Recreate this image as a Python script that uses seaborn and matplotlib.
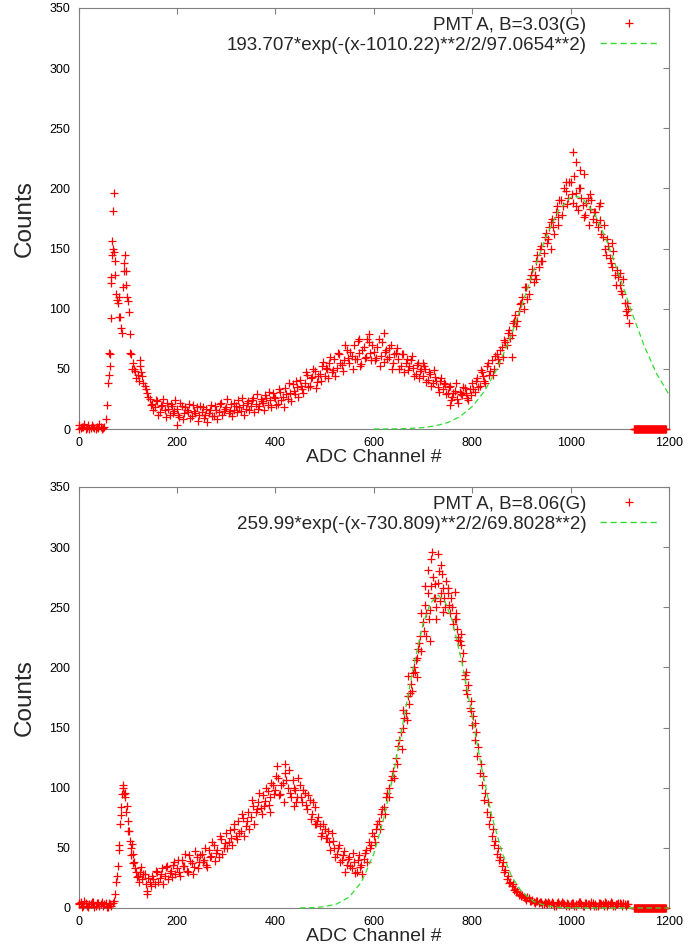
import numpy as np
import pandas as pd
import seaborn as sns
import matplotlib
matplotlib.use("Agg")
import matplotlib.pyplot as plt
from matplotlib.lines import Line2D

# ---- data ----
# counts at channels 0, 5, 10, ... 1115
top_counts = [
    3, 1, 2, 0, 3, 1, 2, 0, 1, 2,
    1, 8, 38, 62, 150, 128, 105, 93, 118, 145,
    106, 79, 55, 48, 45, 52, 44, 36, 30, 25,
    21, 18, 23, 14, 20, 16, 22, 12, 19, 15,
    17, 10, 19, 13, 16, 21, 11, 15, 18, 12,
    14, 9, 17, 13, 20, 11, 16, 14, 22, 15,
    18, 13, 21, 16, 19, 24, 15, 20, 17, 23,
    19, 26, 21, 17, 25, 22, 28, 20, 24, 30,
    26, 21, 31, 27, 34, 25, 30, 37, 29, 35,
    41, 33, 38, 45, 36, 43, 48, 39, 46, 52,
    44, 50, 55, 47, 58, 51, 62, 53, 57, 66,
    55, 61, 70, 58, 63, 54, 68, 60, 72, 57,
    64, 59, 75, 61, 56, 66, 60, 70, 55, 63,
    58, 52, 62, 55, 49, 57, 51, 46, 55, 48,
    44, 50, 41, 46, 38, 43, 35, 40, 33, 37,
    30, 36, 27, 32, 25, 31, 28, 34, 26, 33,
    38, 31, 42, 36, 47, 40, 52, 45, 57, 50,
    62, 55, 68, 74, 70, 82, 78, 90, 86, 98,
    105, 100, 118, 112, 128, 122, 140, 135, 152, 146,
    163, 158, 172, 168, 180, 176, 190, 185, 198, 192,
    205, 188, 196, 182, 200, 186, 178, 192, 183, 175,
    180, 168, 174, 160, 150, 158, 142, 135, 128, 132,
    120, 112, 105, 95,
]
# counts at channels 2, 7, 12, ... 1117
top_counts_b = [
    0, 2, 4, 1, 0, 3, 1, 2, 4, 0,
    2, 20, 63, 126, 147, 112, 93, 84, 131, 120,
    97, 62, 50, 42, 40, 47, 38, 33, 27, 20,
    16, 24, 12, 19, 25, 10, 17, 21, 13, 24,
    12, 22, 8, 18, 14, 9, 20, 13, 7, 19,
    18, 12, 6, 16, 11, 19, 8, 21, 12, 17,
    25, 15, 11, 22, 14, 18, 26, 12, 22, 16,
    24, 14, 29, 19, 23, 16, 26, 31, 18, 27,
    20, 33, 24, 18, 29, 38, 23, 32, 40, 27,
    36, 30, 47, 35, 42, 50, 34, 44, 40, 56,
    51, 42, 60, 49, 44, 63, 55, 48, 70, 59,
    64, 50, 58, 73, 52, 66, 59, 75, 63, 70,
    57, 68, 52, 72, 64, 58, 67, 50, 62, 67,
    50, 62, 47, 58, 52, 61, 44, 53, 42, 50,
    52, 39, 47, 36, 49, 40, 31, 42, 38, 29,
    35, 24, 30, 38, 22, 29, 35, 30, 24, 28,
    33, 40, 35, 49, 44, 38, 55, 48, 45, 61,
    58, 66, 60, 72, 80, 76, 88, 95, 90, 104,
    110, 118, 108, 125, 133, 128, 145, 150, 140, 160,
    155, 168, 175, 162, 185, 190, 178, 200, 187, 205,
    195, 210, 185, 200, 192, 176, 188, 170, 190, 180,
    172, 185, 162, 170, 145, 152, 138, 148, 120, 126,
    115, 125, 98, 100,
]
bot_counts = [
    3, 5, 2, 4, 1, 3, 5, 2, 4, 3,
    2, 4, 1, 3, 4, 12, 35, 70, 100, 92,
    72, 56, 45, 33, 27, 30, 24, 28, 14, 22,
    27, 20, 30, 25, 33, 27, 35, 29, 26, 38,
    33, 30, 40, 35, 31, 44, 37, 34, 42, 38,
    45, 40, 36, 48, 43, 52, 46, 42, 57, 50,
    62, 55, 58, 66, 60, 72, 64, 75, 68, 80,
    76, 85, 80, 88, 83, 94, 89, 97, 92, 102,
    98, 108, 95, 104, 112, 100, 96, 106, 98, 92,
    102, 88, 96, 82, 90, 78, 84, 72, 68, 62,
    66, 58, 55, 62, 50, 45, 52, 40, 47, 36,
    42, 33, 38, 30, 44, 36, 41, 48, 55, 52,
    60, 66, 72, 78, 84, 92, 100, 106, 114, 125,
    135, 146, 150, 162, 176, 186, 195, 206, 215, 226,
    238, 252, 262, 248, 275, 258, 270, 255, 266, 250,
    262, 245, 250, 240, 232, 222, 205, 190, 178, 166,
    152, 140, 126, 112, 102, 90, 80, 70, 60, 52,
    45, 40, 35, 30, 24, 21, 18, 15, 13, 11,
    10, 9, 7, 8, 6, 5, 6, 4, 5, 3,
    4, 5, 3, 4, 2, 5, 3, 4, 2, 3,
    3, 4, 2, 3, 5, 2, 4, 3, 2, 4,
    3, 2, 4, 3, 5, 2, 3, 4, 2, 3,
    4, 2, 3, 3,
]
bot_counts_b = [
    4, 1, 6, 2, 3, 5, 1, 4, 2, 5,
    3, 1, 4, 2, 6, 22, 48, 84, 95, 80,
    64, 50, 38, 30, 22, 34, 28, 20, 25, 18,
    24, 31, 22, 28, 20, 34, 24, 31, 36, 28,
    40, 27, 35, 45, 30, 39, 28, 47, 33, 44,
    38, 50, 34, 42, 55, 39, 48, 60, 45, 54,
    50, 65, 52, 70, 57, 62, 78, 60, 72, 66,
    90, 70, 82, 96, 78, 85, 100, 86, 104, 95,
    110, 94, 102, 88, 106, 115, 92, 100, 88, 108,
    92, 98, 86, 94, 74, 88, 70, 76, 60, 70,
    58, 64, 48, 56, 42, 50, 38, 44, 30, 41,
    35, 46, 29, 40, 34, 28, 46, 38, 50, 62,
    55, 70, 66, 82, 78, 96, 92, 110, 108, 120,
    140, 132, 158, 156, 170, 180, 200, 192, 220, 214,
    230, 245, 240, 268, 258, 250, 280, 262, 258, 272,
    252, 258, 236, 245, 225, 228, 212, 196, 185, 172,
    160, 146, 134, 120, 110, 96, 88, 76, 66, 56,
    50, 42, 38, 32, 27, 22, 20, 16, 14, 12,
    11, 8, 9, 6, 7, 4, 6, 5, 3, 5,
    3, 4, 5, 2, 4, 3, 5, 3, 4, 2,
    4, 2, 3, 5, 3, 2, 4, 3, 5, 2,
    2, 4, 3, 2, 4, 3, 5, 2, 3, 4,
    3, 4, 2, 3,
]
ch_a = np.arange(0, 1120, 5)
ch_b = np.arange(2, 1120, 5)

# extra scattered points around the peaks
top_extra_ch = [62, 64, 66, 67, 68, 69, 71, 72, 74, 78,
                83, 88, 92, 97, 99, 104, 108, 125, 200, 570,
                590, 620, 700, 755, 880, 930, 940, 960, 975, 990,
                1004, 1010, 1020, 1028, 1040, 1060, 1085, 1100, 1115, 1118]
top_extra_counts = [45, 52, 121, 92, 145, 156, 181, 196, 140, 107,
                    110, 80, 138, 131, 110, 63, 50, 57, 3, 75,
                    79, 80, 55, 20, 60, 125, 140, 150, 170, 205,
                    230, 222, 215, 212, 195, 188, 155, 130, 105, 88]
bot_extra_ch = [79, 83, 86, 88, 91, 94, 98, 101, 106, 108, 111, 118, 140,
                403, 420, 390, 438, 480,
                660, 670, 674, 684, 687, 697, 704, 707, 711, 714, 716, 718,
                724, 727, 731, 736, 738, 741, 751, 765, 768, 771, 778, 785,
                788, 798, 805]
bot_extra_counts = [27, 52, 77, 95, 102, 96, 85, 64, 44, 53, 37, 26, 12,
                    118, 120, 80, 85, 70,
                    165, 193, 179, 196, 208, 245, 268, 226, 281, 222, 290, 296,
                    269, 240, 294, 285, 278, 246, 266, 263, 240, 223, 219, 194,
                    181, 164, 154]

# empty channels at the end of the range (all zero)
tail_ch = np.arange(1128, 1194)
tail_counts = [0] * len(tail_ch)

# fitted gaussians
top_fit_ch = [600, 625, 650, 675, 700, 725, 750, 775, 800, 825, 850, 875, 900,
              925, 950, 975, 1000, 1010, 1025, 1050, 1075, 1100, 1125, 1150, 1175, 1200]
top_fit = [0.03, 0.07, 0.2, 0.5, 1.2, 2.6, 5.3, 10.3, 18.6, 31.4, 49.6, 73.4, 101.7,
           131.8, 159.8, 181.4, 192.6, 193.7, 191.5, 178.1, 155.0, 126.3, 96.3, 68.7, 45.8, 28.6]
bot_fit_ch = [450, 475, 500, 525, 550, 575, 600, 620, 640, 660, 680, 700, 715, 731,
              745, 760, 780, 800, 820, 840, 860, 880, 900, 925, 950, 975, 1000, 1050, 1100, 1200]
bot_fit = [0.08, 0.31, 1.1, 3.4, 9.1, 21.5, 44.9, 73.8, 111.6, 155.4, 199.5, 235.9, 253.4, 260.0,
           254.7, 238.2, 202.8, 159.1, 114.9, 76.5, 46.9, 26.5, 13.8, 5.4, 1.9, 0.57, 0.15, 0.01, 0.0, 0.0]

panels = [
    ("PMT A, B=3.03(G)", "193.707*exp(-(x-1010.22)**2/2/97.0654**2)",
     top_counts, top_counts_b, top_extra_ch, top_extra_counts, top_fit_ch, top_fit),
    ("PMT A, B=8.06(G)", "259.99*exp(-(x-730.809)**2/2/69.8028**2)",
     bot_counts, bot_counts_b, bot_extra_ch, bot_extra_counts, bot_fit_ch, bot_fit),
]

sns.set_style("white")
plt.rcParams["font.family"] = ["Liberation Sans", "DejaVu Sans"]

RED = "#ff0000"
GREEN = "#33dd33"
GRAY = "#808080"
DASH = (0, (4.5, 2.7))

W, H = 688, 951
fig = plt.figure(figsize=(W / 100, H / 100), dpi=100)
axes = [
    fig.add_axes([78.5 / W, 1 - 429 / H, 590.5 / W, 421 / H]),
    fig.add_axes([78.5 / W, 1 - 908 / H, 590.5 / W, 421 / H]),
]

for ax, (lab1, lab2, ca, cb, ex_ch, ex_counts, fit_ch, fit_y) in zip(axes, panels):
    df = pd.DataFrame({
        "channel": np.concatenate([ch_a, ch_b, ex_ch, tail_ch]),
        "counts": np.concatenate([ca, cb, ex_counts, tail_counts]),
    })
    sns.scatterplot(data=df, x="channel", y="counts", marker="+", color=RED,
                    s=34, linewidth=0.9, ax=ax, legend=False, zorder=3, clip_on=False)
    sns.lineplot(x=fit_ch, y=fit_y, color=GREEN, lw=0.9, linestyle=DASH,
                 ax=ax, zorder=4, clip_on=False)

    ax.set_xlim(0, 1200)
    ax.set_ylim(0, 350)
    ax.set_xticks(range(0, 1201, 200))
    ax.set_yticks(range(0, 351, 50))
    ax.tick_params(direction="in", length=4.5, width=0.8, color=GRAY,
                   top=True, right=True, labelsize=9, pad=6, labelcolor="black")
    for sp in ax.spines.values():
        sp.set_color(GRAY)
        sp.set_linewidth(0.8)

    ax.set_xlabel("ADC Channel #", fontsize=14)
    ax.set_ylabel("Counts", fontsize=17.5)
    ax.xaxis.set_label_coords(0.5, -0.047)
    ax.yaxis.set_label_coords(-0.073, 0.5)

    common = dict(loc="center right", frameon=False, markerfirst=False,
                  handlelength=3.1, handletextpad=0.7, borderpad=0,
                  borderaxespad=0, fontsize=13.5, bbox_transform=ax.transAxes)
    leg1 = ax.legend(handles=[Line2D([], [], ls="none", marker="+", color=RED,
                                     ms=6, mew=0.9)],
                     labels=[lab1], bbox_to_anchor=(0.981, 1 - 17 / 421), **common)
    ax.add_artist(leg1)
    ax.legend(handles=[Line2D([], [], color=GREEN, lw=1.0, ls=DASH)],
              labels=[lab2], bbox_to_anchor=(0.981, 1 - 37 / 421), **common)

fig.savefig("out.png", dpi=100)
